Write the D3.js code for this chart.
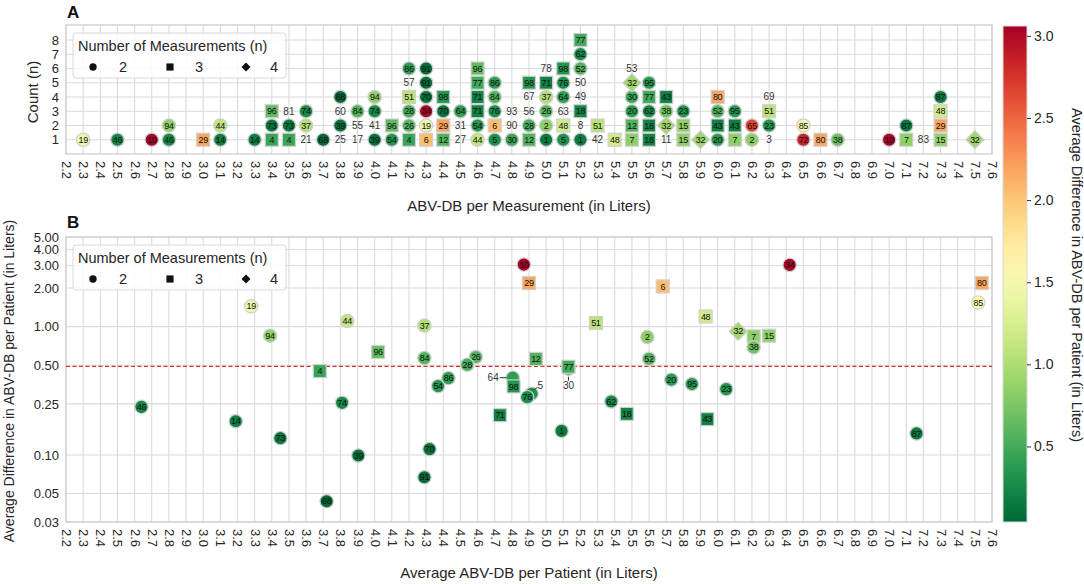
<!DOCTYPE html>
<html><head><meta charset="utf-8">
<script src="https://cdn.jsdelivr.net/npm/d3@7"></script>
<style>
body{margin:0;background:#fff}
svg{display:block}
text{font-family:"Liberation Sans",Arial,sans-serif}
</style>
</head><body>
<svg id="c" width="1084" height="584"></svg>
<script>
// ---------- DATA ----------
const xTicks = [2.2,2.3,2.4,2.5,2.6,2.7,2.8,2.9,3.0,3.1,3.2,3.3,3.4,3.5,3.6,3.7,3.8,3.9,4.0,4.1,4.2,4.3,4.4,4.5,4.6,4.7,4.8,4.9,5.0,5.1,5.2,5.3,5.4,5.5,5.6,5.7,5.8,5.9,6.0,6.1,6.2,6.3,6.4,6.5,6.6,6.7,6.8,6.9,7.0,7.1,7.2,7.3,7.4,7.5,7.6];
const countTicks = [1,2,3,4,5,6,7,8];
const diffTicks = [0.03,0.05,0.10,0.25,0.50,1.00,2.00,3.00,4.00,5.00];
const colorTicks = [0.5,1.0,1.5,2.0,2.5,3.0];
const legendN = [2,3,4];

// Panel A: measurement bins (x) and the patient ids stacked bottom-to-top in each bin
const measX = [2.3,2.5,2.7,2.8,3.0,3.1,3.3,3.4,3.5,3.6,3.7,3.8,3.9,4.0,4.1,4.2,4.3,4.4,4.5,4.6,4.7,4.8,4.9,5.0,5.1,5.2,5.3,5.4,5.5,5.6,5.7,5.8,5.9,6.0,6.1,6.2,6.3,6.5,6.6,6.7,7.0,7.1,7.2,7.3,7.5];
const measStack = [
 [19],[46],[10],[46,94],[29],[14,44],[14],[4,73,96],[4,73,81],[21,37,74],
 [68],[25,39,60,68],[17,55,84],[39,41,74,94],[54,96],[4,26,28,51,57,86],[6,19,34,70,91,91],[12,29,70,98],[27,31,64],[44,54,71,71,77,96],
 [5,6,76,84,86],[30,90,93],[12,28,56,67,98],[1,2,26,37,71,78],[5,48,63,64,76,98],[1,8,18,49,50,52,62,77],[42,51],[48],[7,12,20,30,32,53],[18,18,62,77,95],
 [11,32,38,43],[15,15,23],[32],[20,43,52,80],[7,43,95],[2,65],[3,23,51,69],[72,85],[80],[38],
 [10],[7,87],[83],[15,29,48,87],[32]
];

// Patients with >= 2 measurements
const patientId = [1,2,4,5,6,7,10,12,14,15, 18,19,20,23,26,28,29,30,32,34, 37,38,39,43,44,46,48,51,52,54, 62,64,65,68,70,71,72,73,74,76, 77,80,84,85,86,87,91,94,95,96, 98];
const patientN  = [2,2,3,2,3,3,2,3,2,3, 3,2,2,2,2,2,3,2,4,2, 2,2,2,3,2,2,3,3,2,2, 2,2,2,2,2,3,2,2,2,2, 3,3,2,2,2,2,2,2,2,3, 3];
const patientAvgX = [5.09,5.59,3.68,4.915,5.68,6.21,4.87,4.94,3.19,6.30, 5.47,3.28,5.73,6.05,4.59,4.54,4.90,5.13,6.12,6.42, 4.29,6.21,3.905,5.94,3.84,2.64,5.93,5.29,5.60,4.37, 5.38,4.805,null,3.72,4.32,4.73,null,3.45,3.81,4.89, 5.13,7.54,4.29,7.52,4.43,7.16,4.29,3.39,5.85,4.02, 4.81];
const patientAvgDiff = [0.154,0.83,0.45,0.30,2.06,0.84,3.05,0.56,0.183,0.85, 0.209,1.44,0.386,0.326,0.58,0.505,2.19,0.47,0.92,3.03, 1.02,0.69,0.099,0.19,1.107,0.237,1.2,1.07,0.562,0.344, 0.261,0.40,2.68,0.0435,0.111,0.204,2.85,0.135,0.255,0.282, 0.487,2.19,0.569,1.54,0.397,0.147,0.067,0.85,0.357,0.634, 0.342];
const thresholdLine = 0.49;

// ---------- LAYOUT ----------
const svg = d3.select("#c");
const L = 66, R = 992;
const aTop = 25, aBot = 154, bTop = 237, bBot = 522;
const cbX = 1003, cbW = 24, cbTop = 26, cbBot = 522;
const gridCol = "#dadada", txtCol = "#262626";

const x = d3.scaleLinear().domain([2.2, 7.6]).range([L, R]);
const yA = d3.scaleLinear().domain([0, 9.05]).range([aBot, aTop]);
const yB = d3.scaleLog().domain([0.03, 5]).range([bBot, bTop]);
const color = d3.scaleSequential(t => d3.interpolateRdYlGn(1 - t)).domain([0.04, 3.06]);

const pIndex = new Map(patientId.map((id, i) => [id, i]));

function grid(top, bot, yScale, yVals) {
  const g = svg.append("g");
  g.selectAll("line.v").data(xTicks).join("line")
    .attr("x1", d => x(d)).attr("x2", d => x(d)).attr("y1", top).attr("y2", bot)
    .attr("stroke", gridCol).attr("stroke-width", 1.1);
  g.selectAll("line.h").data(yVals).join("line")
    .attr("x1", L).attr("x2", R).attr("y1", d => yScale(d)).attr("y2", d => yScale(d))
    .attr("stroke", gridCol).attr("stroke-width", 1.1);
  g.append("rect").attr("x", L).attr("y", top).attr("width", R - L).attr("height", bot - top)
    .attr("fill", "none").attr("stroke", "#cfcfcf").attr("stroke-width", 1.3);
}

function xAxis(yPos) {
  const g = svg.append("g").attr("transform", `translate(0,${yPos})`)
    .call(d3.axisBottom(x).tickValues(xTicks).tickFormat(d3.format(".1f")).tickSize(0).tickPadding(0));
  g.select(".domain").remove();
  g.selectAll("text").attr("font-size", 13).attr("fill", txtCol)
    .attr("text-anchor", "start").attr("dy", null)
    .attr("transform", "translate(0,7) rotate(90)")
    .attr("dominant-baseline", "central").attr("y", 0).attr("x", 0);
}

function yAxis(scale, vals, fmt) {
  const g = svg.append("g").attr("transform", `translate(${L},0)`)
    .call(d3.axisLeft(scale).tickValues(vals).tickFormat(fmt).tickSize(0).tickPadding(7));
  g.select(".domain").remove();
  g.selectAll("text").attr("font-size", 13).attr("fill", txtCol);
}

function marker(g, n, cx, cy, fill, scale) {
  const s = scale || 1;
  if (n === 2) {
    g.append("circle").attr("cx", cx).attr("cy", cy).attr("r", 6.7 * s)
      .attr("fill", fill).attr("stroke", s === 1 ? "#d0d0d0" : "none").attr("stroke-width", 1.2);
  } else if (n === 3) {
    const a = 13 * s;
    g.append("rect").attr("x", cx - a / 2).attr("y", cy - a / 2).attr("width", a).attr("height", a)
      .attr("fill", fill).attr("stroke", s === 1 ? "#d0d0d0" : "none").attr("stroke-width", 1.2);
  } else {
    const h = 9 * s;
    g.append("path").attr("d", `M${cx},${cy - h}L${cx + h},${cy}L${cx},${cy + h}L${cx - h},${cy}Z`)
      .attr("fill", fill).attr("stroke", s === 1 ? "#d0d0d0" : "none").attr("stroke-width", 1.2);
  }
}

function legend(top) {
  const g = svg.append("g");
  g.append("rect").attr("x", 73).attr("y", top).attr("width", 213).attr("height", 45)
    .attr("rx", 3).attr("fill", "rgba(255,255,255,0.85)").attr("stroke", "#d8d8d8");
  g.append("text").attr("x", 78).attr("y", top + 18).attr("font-size", 14.5).attr("fill", txtCol)
    .text("Number of Measurements (n)");
  const mx = [93, 170, 246], lx = [123, 199, 274];
  legendN.forEach((n, i) => {
    marker(g, n, mx[i], top + 34, "#111", n === 2 ? 0.55 : (n === 3 ? 0.55 : 0.5));
    g.append("text").attr("x", lx[i]).attr("y", top + 39).attr("text-anchor", "middle")
      .attr("font-size", 14.5).attr("fill", txtCol).text(n);
  });
}

// ---------- PANEL A ----------
grid(aTop, aBot, yA, countTicks);
xAxis(aBot);
yAxis(yA, countTicks, d3.format("d"));
const gA = svg.append("g");
measX.forEach((mxv, ci) => {
  measStack[ci].forEach((id, si) => {
    const cx = x(mxv), cy = yA(si + 1);
    const pi = pIndex.get(id);
    if (pi === undefined) {
      gA.append("text").attr("x", cx).attr("y", cy).attr("dy", "0.35em").attr("text-anchor", "middle")
        .attr("font-size", 10).attr("fill", "#333").text(id);
    } else {
      marker(gA, patientN[pi], cx, cy, color(patientAvgDiff[pi]));
      gA.append("text").attr("x", cx).attr("y", cy).attr("dy", "0.35em").attr("text-anchor", "middle")
        .attr("font-size", 9).attr("letter-spacing", -0.3).attr("fill", "#111").text(id);
    }
  });
});
legend(33);
svg.append("text").attr("x", 67).attr("y", 18).attr("font-size", 17).attr("font-weight", "bold").attr("fill", "#111").text("A");
svg.append("text").attr("x", 529).attr("y", 211).attr("text-anchor", "middle").attr("font-size", 15).attr("fill", txtCol)
  .text("ABV-DB per Measurement (in Liters)");
svg.append("text").attr("transform", "translate(38,92) rotate(-90)").attr("text-anchor", "middle")
  .attr("font-size", 15).attr("fill", txtCol).text("Count (n)");

// ---------- PANEL B ----------
grid(bTop, bBot, yB, diffTicks);
xAxis(bBot);
yAxis(yB, diffTicks, d3.format(".2f"));
svg.append("line").attr("x1", L).attr("x2", R).attr("y1", yB(thresholdLine)).attr("y2", yB(thresholdLine))
  .attr("stroke", "#d9302c").attr("stroke-width", 1.4).attr("stroke-dasharray", "4,2.5");
const outside = new Map([[64, {dx: -14, dy: 0, anchor: "end", l: [-13, 0, -6, 0]}],
                         [5, {dx: 6, dy: -8, anchor: "start", l: [2.5, -4, 6, -6.5]}],
                         [30, {dx: 0, dy: 17, anchor: "middle", l: [0, 8, 0, 12]}]]);
const gB = svg.append("g");
patientId.forEach((id, i) => {
  if (patientAvgX[i] === null) return;
  const cx = x(patientAvgX[i]), cy = yB(patientAvgDiff[i]);
  marker(gB, patientN[i], cx, cy, color(patientAvgDiff[i]));
  const o = outside.get(id);
  if (o) {
    svg.append("line").attr("x1", cx + o.l[0]).attr("y1", cy + o.l[1]).attr("x2", cx + o.l[2]).attr("y2", cy + o.l[3])
      .attr("stroke", "#333").attr("stroke-width", 1);
    svg.append("text").attr("x", cx + o.dx).attr("y", cy + o.dy).attr("dy", "0.35em").attr("text-anchor", o.anchor)
      .attr("font-size", 10).attr("fill", "#333").text(id);
  } else {
    gB.append("text").attr("x", cx).attr("y", cy).attr("dy", "0.35em").attr("text-anchor", "middle")
      .attr("font-size", 9).attr("letter-spacing", -0.3).attr("fill", "#111").text(id);
  }
});
legend(245);
svg.append("text").attr("x", 67).attr("y", 228).attr("font-size", 17).attr("font-weight", "bold").attr("fill", "#111").text("B");
svg.append("text").attr("x", 529).attr("y", 578).attr("text-anchor", "middle").attr("font-size", 15).attr("fill", txtCol)
  .text("Average ABV-DB per Patient (in Liters)");
svg.append("text").attr("transform", "translate(14,381) rotate(-90)").attr("text-anchor", "middle")
  .attr("font-size", 14).attr("fill", txtCol).text("Average Difference in ABV-DB per Patient (in Liters)");

// ---------- COLORBAR ----------
const cScale = d3.scaleLinear().domain([0.04, 3.06]).range([cbBot, cbTop]);
const defs = svg.append("defs");
const grad = defs.append("linearGradient").attr("id", "cb").attr("x1", 0).attr("y1", 1).attr("x2", 0).attr("y2", 0);
d3.range(0, 1.0001, 0.05).forEach(t => {
  grad.append("stop").attr("offset", t).attr("stop-color", color(0.04 + t * (3.06 - 0.04)));
});
svg.append("rect").attr("x", cbX).attr("y", cbTop).attr("width", cbW).attr("height", cbBot - cbTop)
  .attr("fill", "url(#cb)").attr("stroke", "#d8d8d8").attr("stroke-width", 1);
const cg = svg.append("g").attr("transform", `translate(${cbX + cbW},0)`)
  .call(d3.axisRight(cScale).tickValues(colorTicks).tickFormat(d3.format(".1f")).tickSize(4).tickPadding(3));
cg.select(".domain").remove();
cg.selectAll("line").attr("stroke", "#333");
cg.selectAll("text").attr("font-size", 14).attr("fill", txtCol);
svg.append("text").attr("transform", "translate(1072,275) rotate(90)").attr("text-anchor", "middle")
  .attr("font-size", 14.5).attr("fill", txtCol).text("Average Difference in ABV-DB per Patient (in Liters)");
</script>
</body></html>
